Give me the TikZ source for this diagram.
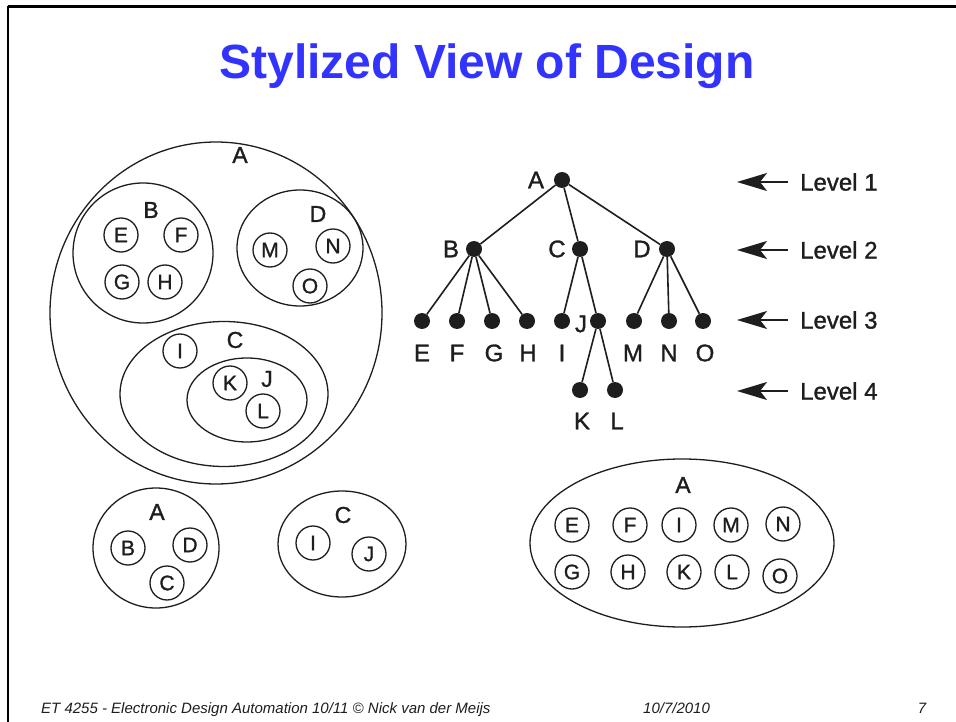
\documentclass[tikz,border=0pt]{standalone}
\usepackage{fontspec}
\setmainfont{Liberation Sans}
\newfontfamily\heavyfont[FakeBold=1.2]{Liberation Sans}
\usetikzlibrary{shapes.geometric,arrows.meta}
\definecolor{titleblue}{RGB}{51,51,255}
\definecolor{ink}{RGB}{30,30,30}
\begin{document}
\begin{tikzpicture}[x=1pt,y=-1pt,
  lbl/.style={inner sep=0pt, text=ink, font=\heavyfont\fontsize{23}{23}\selectfont},
  sm/.style={draw=ink, circle, line width=1.3pt, minimum size=34pt, inner sep=0pt, text=ink, font=\heavyfont\fontsize{21}{21}\selectfont},
  cont/.style={draw=ink, ellipse, line width=1.3pt, inner sep=0pt},
  tdot/.style={circle, fill=ink, minimum size=16pt, inner sep=0pt},
  tl/.style={inner sep=0pt, text=ink, font=\heavyfont\fontsize{24}{24}\selectfont},
  tedge/.style={line width=1.6pt, draw=ink},
  lvl/.style={line width=1.6pt, draw=ink, -{Stealth[length=30pt,width=18pt,inset=7pt]}, shorten <=12pt},
  foot/.style={inner sep=0pt, text=ink, font=\fontsize{15}{15}\selectfont\itshape}]
\useasboundingbox (0,0) rectangle (956,722);
\fill[white] (0,0) rectangle (956,722);
% frame
\draw[line width=3pt] (8,7) -- (956,7);
\draw[line width=2pt] (8,6) -- (8,722);
% title
\node[anchor=base, inner sep=0pt, text=titleblue, font=\fontsize{48}{48}\selectfont\bfseries] (title) at (487,79) {Stylized View of Design};

% ---- big nested diagram ----
\node[cont, minimum width=332pt, minimum height=342pt] (bA) at (216,313) {};
\node[lbl] (bAl) at (240,155) {A};
\node[cont, minimum width=140pt, minimum height=140pt] (bB) at (143,253) {};
\node[lbl] (bBl) at (151,210) {B};
\node[sm] (bE) at (121,235) {E};
\node[sm] (bF) at (181,235) {F};
\node[sm] (bG) at (122,282) {G};
\node[sm] (bH) at (165,282) {H};
\node[cont, minimum width=126pt, minimum height=116pt] (bD) at (300,248) {};
\node[lbl] (bDl) at (318,214) {D};
\node[sm] (bM) at (270,250) {M};
\node[sm] (bN) at (333,246) {N};
\node[sm] (bO) at (310,286) {O};
\node[cont, minimum width=208pt, minimum height=145pt] (bC) at (224,394) {};
\node[lbl] (bCl) at (235,340) {C};
\node[sm] (bI) at (180,351) {I};
\node[cont, minimum width=120pt, minimum height=84pt] (bJ) at (247,400) {};
\node[lbl] (bJl) at (267,379) {J};
\node[sm] (bK) at (230,383) {K};
\node[sm] (bL) at (263,411) {L};

% ---- bottom left ----
\node[cont, minimum width=126pt, minimum height=120pt] (sA) at (156,548) {};
\node[lbl] (sAl) at (157,512) {A};
\node[sm] (sB) at (128,548) {B};
\node[sm] (sD) at (190,545) {D};
\node[sm] (sC) at (167,583) {C};
\node[cont, minimum width=128pt, minimum height=106pt] (sCc) at (342,544) {};
\node[lbl] (sCl) at (343,515) {C};
\node[sm] (sI) at (313,543) {I};
\node[sm] (sJ) at (369,554) {J};

% ---- bottom right ----
\node[cont, minimum width=304pt, minimum height=168pt] (fA) at (682,543) {};
\node[lbl] (fAl) at (683,485) {A};
\node[sm] (fE) at (572,525) {E};
\node[sm] (fF) at (630,525) {F};
\node[sm] (fI) at (679,525) {I};
\node[sm] (fM) at (731,525) {M};
\node[sm] (fN) at (783,524) {N};
\node[sm] (fG) at (572,572) {G};
\node[sm] (fH) at (628,572) {H};
\node[sm] (fK) at (684,572) {K};
\node[sm] (fL) at (732,572) {L};
\node[sm] (fO) at (780,576) {O};

% ---- tree ----
\node[tdot] (tA) at (562,180) {};
\node[tdot] (tB) at (474,249) {};
\node[tdot] (tC) at (580,249) {};
\node[tdot] (tD) at (667,249) {};
\node[tdot] (tE) at (422,321) {};
\node[tdot] (tF) at (457,321) {};
\node[tdot] (tG) at (492,321) {};
\node[tdot] (tH) at (527,321) {};
\node[tdot] (tI) at (562,321) {};
\node[tdot] (tJ) at (598,321) {};
\node[tdot] (tM) at (634,321) {};
\node[tdot] (tN) at (669,321) {};
\node[tdot] (tO) at (703,321) {};
\node[tdot] (tK) at (580,390) {};
\node[tdot] (tL) at (615,390) {};
\foreach \a/\b in {A/B,A/C,A/D,B/E,B/F,B/G,B/H,C/I,C/J,J/K,J/L,D/M,D/N,D/O}
  \draw[tedge] (t\a) -- (t\b);
\node[tl] (tAl) at (536,180) {A};
\node[tl] (tBl) at (451,249) {B};
\node[tl] (tCl) at (557,249) {C};
\node[tl] (tDl) at (642,249) {D};
\node[tl] (tJl) at (581,324) {J};
\node[tl] (tEl) at (422,353) {E};
\node[tl] (tFl) at (457,353) {F};
\node[tl] (tGl) at (494,353) {G};
\node[tl] (tHl) at (528,353) {H};
\node[tl] (tIl) at (562,353) {I};
\node[tl] (tMl) at (633,353) {M};
\node[tl] (tNl) at (669,353) {N};
\node[tl] (tOl) at (705,353) {O};
\node[tl] (tKl) at (582,421) {K};
\node[tl] (tLl) at (617,421) {L};

% ---- levels ----
\foreach \n/\y in {1/182,2/250,3/320,4/391}{
  \node[tl, anchor=west] (lev\n) at (800,\y) {Level \n};
  \coordinate (tip\n) at (737,\y);
  \draw[lvl] (lev\n.west) -- (tip\n);
}

% ---- footer ----
\node[foot, anchor=base west] (f1) at (41,713) {ET 4255 - Electronic Design Automation 10/11 © Nick van der Meijs};
\node[foot, anchor=base west] (f2) at (643,713) {10/7/2010};
\node[foot, anchor=base] (f3) at (922,713) {7};
\end{tikzpicture}
\end{document}
